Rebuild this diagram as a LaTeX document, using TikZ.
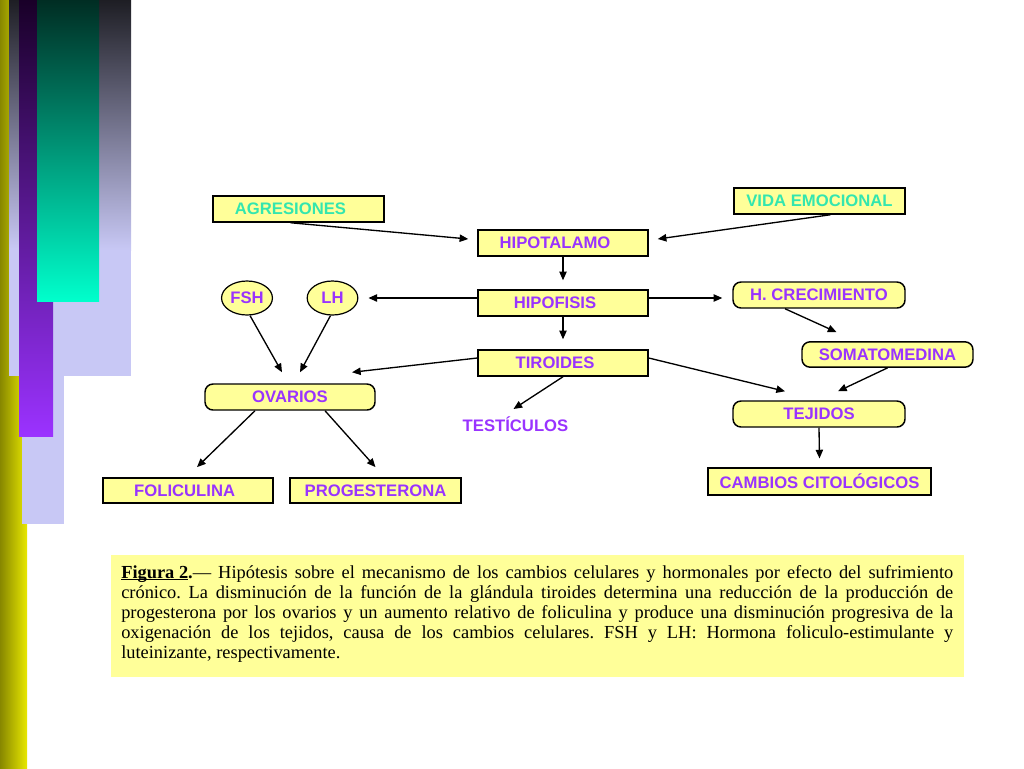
\documentclass[tikz,border=0pt]{standalone}
\usepackage{fontspec}
\setmainfont{Liberation Serif}
\newfontfamily\labfont{Liberation Sans}
\usetikzlibrary{arrows.meta,calc,shapes.geometric}
\newcommand\figul[1]{\setbox0\hbox{#1}\rlap{\rule[-1.8pt]{\wd0}{0.9pt}}\box0}
\definecolor{boxfill}{RGB}{255,255,153}
\definecolor{labpurple}{RGB}{153,51,255}
\definecolor{labaqua}{RGB}{51,230,175}
\definecolor{lav}{RGB}{200,200,245}
\definecolor{lavdark}{RGB}{30,30,36}
\definecolor{purpdark}{RGB}{25,0,40}
\definecolor{purpbright}{RGB}{155,50,255}
\definecolor{tealdark}{RGB}{0,45,35}
\definecolor{tealbright}{RGB}{0,255,204}
\definecolor{olivedark}{RGB}{135,135,0}
\definecolor{yellowbright}{RGB}{232,232,0}
\tikzset{
  hbox/.style={draw=black, line width=1.1pt, fill=boxfill, minimum width=128pt,
    minimum height=19.5pt, inner sep=1pt, text=labpurple,
    font=\labfont\bfseries\fontsize{12.5pt}{14pt}\selectfont},
  rbox/.style={hbox, rounded corners=6pt},
  ebox/.style={hbox, ellipse, line width=0.9pt, minimum width=38pt, minimum height=25.5pt},
  arr/.style={line width=1pt, -{Triangle[length=6.5pt,width=5.5pt]}},
  lab/.style={text=labpurple, inner sep=0pt, font=\labfont\bfseries\fontsize{12.5pt}{14pt}\selectfont},
}
\begin{document}
\begin{tikzpicture}[x=0.75pt,y=-0.75pt]
\useasboundingbox (0,0) rectangle (1024,768);
% decorative bars
\shade[left color=olivedark, right color=yellowbright] (0,0) rectangle (27,768);
\shade[top color=lavdark, bottom color=lav] (9,0) rectangle (131,250);
\fill[lav] (9,249.5) rectangle (131,376);
\fill[lav] (22,376) rectangle (64,524);
\shade[top color=purpdark, bottom color=purpbright] (19,0) rectangle (53,436);
\shade[top color=tealdark, bottom color=tealbright] (37,0) rectangle (99,301);

% nodes
\node[hbox, minimum width=128.25pt, text=labaqua] (agr) at (298.5,209) {AGRESIONES\kern12pt};
\node[hbox, minimum width=128.25pt, text=labaqua] (vida) at (819.5,201) {VIDA EMOCIONAL};
\node[hbox, minimum width=127.5pt] (hipot) at (563,243) {HIPOTALAMO\kern12pt};
\node[hbox, minimum width=127.5pt] (hipof) at (563,303) {HIPOFISIS\kern12pt};
\node[hbox, minimum width=127.5pt] (tir) at (563,363) {TIROIDES\kern12pt};
\node[ebox] (fsh) at (247,298) {FSH};
\node[ebox] (lh) at (332.5,298) {LH};
\node[rbox, minimum width=129pt] (hcrec) at (819,295) {H. CRECIMIENTO};
\node[rbox, minimum width=128.25pt, minimum height=19pt] (somat) at (887.5,354.5) {SOMATOMEDINA};
\node[rbox, minimum width=129pt] (tej) at (819,414) {TEJIDOS};
\node[hbox, minimum width=167.25pt, minimum height=20pt] (camb) at (819.5,481.5) {CAMBIOS CITOLÓGICOS};
\node[rbox, minimum width=127.5pt] (ovar) at (290,397) {OVARIOS};
\node[hbox, minimum width=127.5pt, minimum height=19pt] (foli) at (188,490.5) {FOLICULINA\kern5pt};
\node[hbox, minimum width=128.25pt, minimum height=19pt] (prog) at (375.5,490.5) {PROGESTERONA};
\node[lab, anchor=base] (testi) at (515.5,431) {TESTÍCULOS};

% arrows
\draw[arr] ($(agr.south)+(-8,0)$) -- ($(hipot.west)+(-9,-4)$);
\draw[arr] ($(vida.south)+(11,0)$) -- ($(hipot.east)+(9,-4)$);
\draw[arr] (hipot.south) -- ($(hipof.north)+(0,-9)$);
\draw[arr] ($(hipof.west)+(0,-5)$) -- ($(lh.east)+(10,0)$);
\draw[arr] ($(hipof.east)+(0,-5)$) -- ($(hcrec.west)+(-10,3)$);
\draw[arr] (hipof.south) -- ($(tir.north)+(0,-10)$);
\draw[arr] ($(hcrec.south)+(-34,0)$) -- ($(somat.north)+(-51,-9)$);
\draw[arr] (somat.south) -- ($(tej.north)+(19,-9)$);
\draw[arr] ($(tir.east)+(0,-5)$) -- ($(tej.north)+(-34,-9)$);
\draw[arr] ($(tir.west)+(0,-5)$) -- ($(ovar.north)+(62,-11)$);
\draw[arr] (tir.south) -- ($(testi.base)+(-2,-22)$);
\draw[arr] ($(fsh.south)+(3,0)$) -- ($(ovar.north)+(-8,-11)$);
\draw[arr] ($(lh.south)+(-2,0)$) -- ($(ovar.north)+(10,-11)$);
\draw[arr] ($(ovar.south)+(-35,0)$) -- ($(foli.north)+(9,-10)$);
\draw[arr] ($(ovar.south)+(35,0)$) -- ($(prog.north)+(0,-10)$);
\draw[arr] (tej.south) -- ($(camb.north)+(0,-9)$);

% caption
\node[fill=boxfill, inner sep=0pt, minimum width=639.75pt, minimum height=91.5pt] (capbox) at (537.5,615.5) {};
\node[anchor=base west, inner sep=0pt] (captext) at (121,578) {\parbox[t]{624pt}{\fontsize{13.8pt}{15pt}\selectfont\frenchspacing
\makebox[\linewidth][s]{\textbf{\figul{Figura 2}.}— Hipótesis sobre el mecanismo de los cambios celulares y hormonales por efecto del sufrimiento}\\
\makebox[\linewidth][s]{crónico. La disminución de la función de la glándula tiroides determina una reducción de la producción de}\\
\makebox[\linewidth][s]{progesterona por los ovarios y un aumento relativo de foliculina y produce una disminución progresiva de la}\\
\makebox[\linewidth][s]{oxigenación de los tejidos, causa de los cambios celulares. FSH y LH: Hormona foliculo-estimulante y}\\
luteinizante, respectivamente.}};
\end{tikzpicture}
\end{document}
